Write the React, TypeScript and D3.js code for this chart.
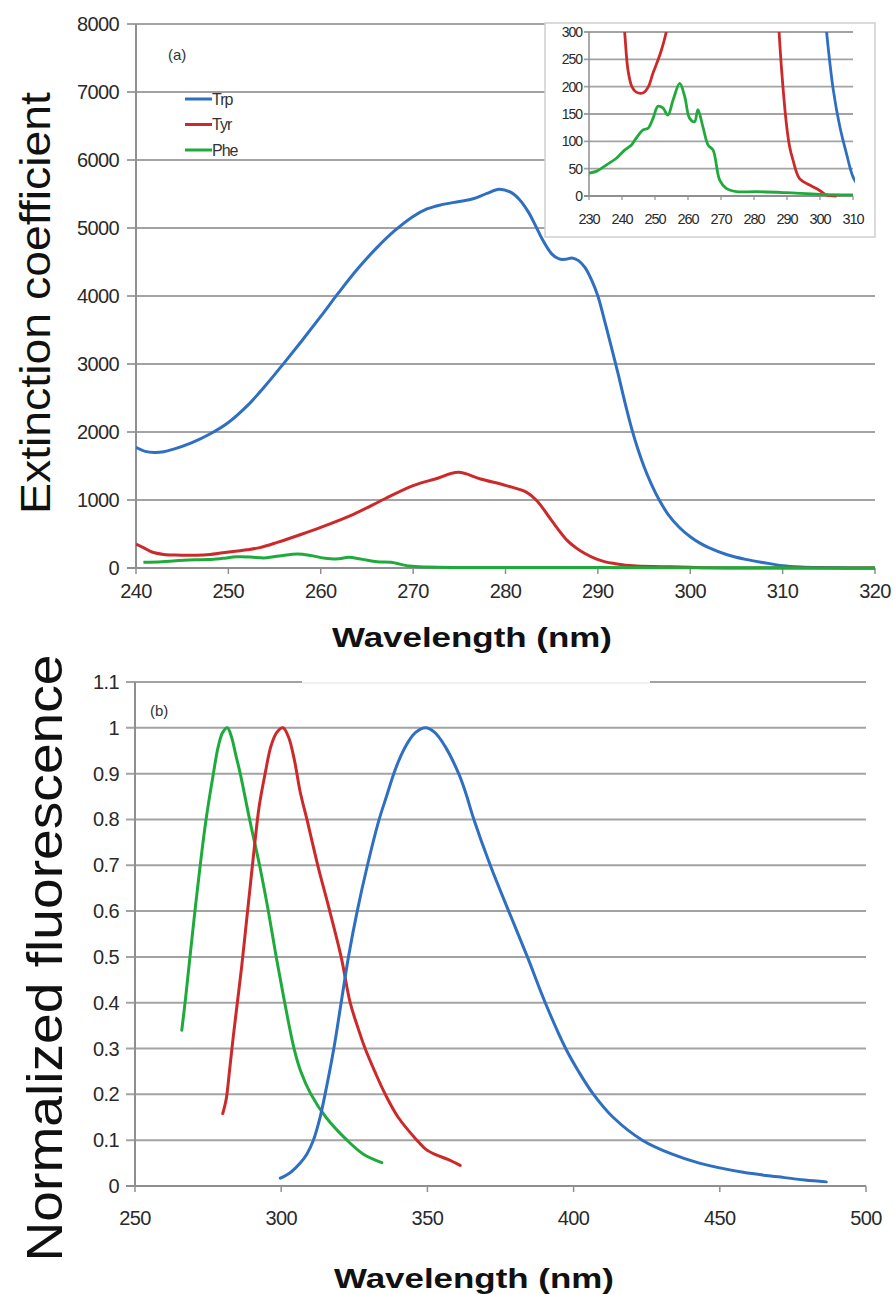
import React from 'react';
import * as d3 from 'd3';

// ---------- Data: panel (a) absorption ----------
const trpWl = [240,241,242,243,244,246,248,250,252,254,256,258,260,262,264,266,268,270,271.5,273,275,276.5,278,279.3,280.5,281.5,282.5,283.3,284,285,285.8,286.5,287.2,287.9,288.6,289.3,290,290.7,291.4,292.2,292.9,293.6,294.3,295,295.8,296.6,297.6,298.8,300,301,302,304,306,308,310,312,314,316,318,320];
const trpEps = [1775,1715,1700,1710,1745,1840,1970,2140,2380,2680,3010,3350,3700,4060,4400,4700,4960,5170,5280,5340,5390,5430,5510,5570,5530,5420,5230,5020,4830,4620,4545,4540,4560,4520,4420,4240,4000,3650,3280,2850,2450,2080,1760,1490,1230,1010,790,600,460,370,300,195,127,78,35,15,6,2,0,0];

const tyrWl = [240,240.8,241.8,243,244.3,246.5,248,249.4,251,252,253.4,255.3,258,260,263.6,266.9,270,272.4,274.9,277.3,280.1,282.3,283.4,285,286.7,287.6,288.5,289.8,290.8,291.8,293.8,296.9,299.9,301.9,305,320];
const tyrEps = [353,300,231,200,190,189,200,225,250,268,300,377,500,598,794,1015,1211,1309,1407,1309,1211,1113,990,696,402,300,220,133,90,66,32,20,10,2,0,0];

const pheWl = [230,232.2,235.3,238.3,240.8,242.8,244.3,246.4,247.9,249.4,250.9,252.4,253.9,255.5,257.5,259,260.5,262,263,264.5,266.1,267.6,269.6,271.6,274.6,280.7,289.8,299.9,310,320];
const pheEps = [42,45,57,69,84,93,106,121,124,142,164,161,148,176,206,182,142,136,158,127,93,84,29,14,8,8,6,3,2,1];

// ---------- Data: panel (b) fluorescence ----------
const trpFlWl = [299.7,303.3,306.5,308.8,311,313.3,315,318,320.5,323,326,329.5,333.5,336,338.5,341,343.5,346,349.3,352.5,356,360.7,363,365.9,371.5,377.8,384.2,390.3,397.3,401.7,406.8,413.5,423.5,433.5,443,458,470,479,486.4];
const trpFl = [0.017,0.03,0.05,0.07,0.1,0.15,0.2,0.3,0.4,0.5,0.6,0.7,0.8,0.85,0.9,0.94,0.97,0.99,1.0,0.99,0.96,0.9,0.86,0.8,0.7,0.6,0.5,0.4,0.3,0.25,0.2,0.15,0.1,0.07,0.05,0.03,0.02,0.013,0.009];

const tyrFlWl = [280,281.2,282.3,283.5,285,286.5,288,289.5,291,292.5,294.5,296.5,298.5,300.6,302.5,304.5,306.5,308.8,312.5,316.6,320.5,323.6,326,328.7,332,335.6,340,346.4,349.5,353,357,361.2];
const tyrFl = [0.158,0.19,0.25,0.32,0.4,0.48,0.57,0.66,0.75,0.83,0.9,0.96,0.99,1.0,0.98,0.93,0.86,0.8,0.7,0.6,0.5,0.4,0.35,0.3,0.25,0.2,0.15,0.1,0.08,0.068,0.058,0.045];

const pheFlWl = [266,267.3,268.8,270.5,272.3,274.3,276.8,278.5,280,281.6,283,284.5,286,289.2,292.6,295.6,298.3,301.2,304.4,306.7,310.2,315.3,322.5,328,334.4];
const pheFl = [0.34,0.41,0.5,0.6,0.7,0.8,0.9,0.96,0.99,1.0,0.98,0.94,0.9,0.8,0.7,0.6,0.5,0.4,0.3,0.25,0.2,0.15,0.1,0.07,0.051];

// ---------- Ticks / labels ----------
const absYTicks = [0,1000,2000,3000,4000,5000,6000,7000,8000];
const absXTicks = [240,250,260,270,280,290,300,310,320];
const insetYTicks = [0,50,100,150,200,250,300];
const insetXTicks = [230,240,250,260,270,280,290,300,310];
const flYTicks = [0,0.1,0.2,0.3,0.4,0.5,0.6,0.7,0.8,0.9,1,1.1];
const flXTicks = [250,300,350,400,450,500];
const legendNames = ['Trp','Tyr','Phe'];

const BLUE = '#2f6fc2';
const RED = '#cc2a2a';
const GREEN = '#1fab3c';
const GRID = '#a3a3a3';
const AXIS = '#8f8f8f';
const TICKFONT = "'Liberation Sans', Arial, sans-serif";

function pts(xs: number[], ys: number[]) {
  return xs.map((x, i) => [x, ys[i]] as [number, number]);
}

export default function App() {
  const W = 895, H = 1294;
  const xA = d3.scaleLinear().domain([240, 320]).range([136, 875]);
  const yA = d3.scaleLinear().domain([0, 8000]).range([568, 24]);
  const xI = d3.scaleLinear().domain([230, 310]).range([589, 853]);
  const yI = d3.scaleLinear().domain([0, 300]).range([196, 32]);
  const xB = d3.scaleLinear().domain([250, 500]).range([135, 866]);
  const yB = d3.scaleLinear().domain([0, 1.1]).range([1186, 682]);

  const curve = d3.curveCatmullRom.alpha(0.5);
  const lineA = d3.line<[number, number]>().x(d => xA(d[0])).y(d => yA(d[1])).curve(curve);
  const lineI = d3.line<[number, number]>().x(d => xI(d[0])).y(d => yI(d[1])).curve(curve);
  const lineB = d3.line<[number, number]>().x(d => xB(d[0])).y(d => yB(d[1])).curve(curve);

  const absSeries = [
    { name: 'Trp', color: BLUE, data: pts(trpWl, trpEps) },
    { name: 'Tyr', color: RED, data: pts(tyrWl, tyrEps) },
    { name: 'Phe', color: GREEN, data: pts(pheWl, pheEps) },
  ];
  const flSeries = [
    { color: GREEN, data: pts(pheFlWl, pheFl) },
    { color: RED, data: pts(tyrFlWl, tyrFl) },
    { color: BLUE, data: pts(trpFlWl, trpFl) },
  ];

  return (
    <svg width={W} height={H} style={{ position: 'absolute', left: 0, top: 0, background: '#fff' }}>
      <defs>
        <clipPath id="clipA"><rect x={xA(240)} y={yA(8000)} width={xA(320) - xA(240) + 2} height={yA(0) - yA(8000) + 2} /></clipPath>
        <clipPath id="clipI"><rect x={xI(230)} y={yI(300)} width={xI(310) - xI(230) + 2} height={yI(0) - yI(300) + 2} /></clipPath>
      </defs>
      <rect x={0} y={0} width={W} height={H} fill="#fff" />

      {/* ===== Panel (a) ===== */}
      {absYTicks.map(t => (
        <g key={'ag' + t}>
          <line x1={xA(240) - 9} x2={xA(320)} y1={yA(t)} y2={yA(t)} stroke={t === 0 ? AXIS : GRID} strokeWidth={2} />
          <text x={119} y={yA(t) + 7} textAnchor="end" fontFamily={TICKFONT} fontSize={20} letterSpacing={-0.6} fill="#2a2a2a">{t}</text>
        </g>
      ))}
      <line x1={xA(240)} x2={xA(240)} y1={yA(8000)} y2={yA(0)} stroke={AXIS} strokeWidth={2} />
      {absXTicks.map(t => (
        <g key={'ax' + t}>
          <line x1={xA(t)} x2={xA(t)} y1={yA(0)} y2={yA(0) + 6} stroke={AXIS} strokeWidth={1.5} />
          <text x={xA(t)} y={598} textAnchor="middle" fontFamily={TICKFONT} fontSize={20} letterSpacing={-0.6} fill="#2a2a2a">{t}</text>
        </g>
      ))}
      <g clipPath="url(#clipA)">
        {absSeries.map(s => (
          <path key={'a' + s.name} d={lineA(s.data.filter(d => d[0] >= 240)) || ''} fill="none" stroke={s.color} strokeWidth={3} strokeLinejoin="round" />
        ))}
      </g>
      <text x={168} y={60} fontFamily={TICKFONT} fontSize={15} fill="#333">(a)</text>
      {legendNames.map((n, i) => (
        <g key={'lg' + n}>
          <line x1={185} x2={212} y1={99 + i * 25.5} y2={99 + i * 25.5} stroke={absSeries[i].color} strokeWidth={3} />
          <text x={212} y={104.5 + i * 25.5} fontFamily={TICKFONT} fontSize={16} letterSpacing={-1} fill="#333">{n}</text>
        </g>
      ))}

      {/* inset */}
      <rect x={545} y={23} width={330} height={214} fill="#fff" stroke="#cfcfcf" strokeWidth={1.5} />
      {insetYTicks.map(t => (
        <g key={'ig' + t}>
          <line x1={xI(230) - 5} x2={xI(310)} y1={yI(t)} y2={yI(t)} stroke={t === 0 ? AXIS : GRID} strokeWidth={1.8} />
          <text x={582} y={yI(t) + 5} textAnchor="end" fontFamily={TICKFONT} fontSize={14} letterSpacing={-1} fill="#2a2a2a">{t}</text>
        </g>
      ))}
      <line x1={xI(230)} x2={xI(230)} y1={yI(300)} y2={yI(0)} stroke={AXIS} strokeWidth={1.5} />
      {insetXTicks.map(t => (
        <g key={'ix' + t}>
          <line x1={xI(t)} x2={xI(t)} y1={yI(0)} y2={yI(0) + 4} stroke={AXIS} strokeWidth={1.2} />
          <text x={xI(t)} y={224} textAnchor="middle" fontFamily={TICKFONT} fontSize={14.5} letterSpacing={-1} fill="#2a2a2a">{t}</text>
        </g>
      ))}
      <g clipPath="url(#clipI)">
        {absSeries.map(s => (
          <path key={'i' + s.name} d={lineI(s.data.filter(d => d[0] <= 312)) || ''} fill="none" stroke={s.color} strokeWidth={2.8} strokeLinejoin="round" />
        ))}
      </g>

      {/* axis titles panel a */}
      <text x={472} y={647} textAnchor="middle" fontFamily={TICKFONT} fontWeight="bold" fontSize={28} textLength={280} lengthAdjust="spacingAndGlyphs" fill="#111">Wavelength (nm)</text>
      <text transform="translate(50,303) rotate(-90)" textAnchor="middle" fontFamily={TICKFONT} fontSize={42} textLength={422} lengthAdjust="spacingAndGlyphs" fill="#111">Extinction coefficient</text>

      {/* ===== Panel (b) ===== */}
      {flYTicks.map(t => (
        <g key={'bg' + t}>
          <line x1={xB(250) - 9} x2={xB(500)} y1={yB(t)} y2={yB(t)} stroke={t === 0 ? AXIS : GRID} strokeWidth={2} />
          <text x={119} y={yB(t) + 7} textAnchor="end" fontFamily={TICKFONT} fontSize={20} letterSpacing={-0.6} fill="#2a2a2a">{String(t)}</text>
        </g>
      ))}
      <rect x={302} y={yB(1.1) - 2} width={348} height={4} fill="#fff" />
      <line x1={302} x2={650} y1={yB(1.1) + 1} y2={yB(1.1) + 1} stroke="#e2e2e2" strokeWidth={1} />
      <line x1={xB(250)} x2={xB(250)} y1={yB(1.1)} y2={yB(0)} stroke={AXIS} strokeWidth={2} />
      {flXTicks.map(t => (
        <g key={'bx' + t}>
          <line x1={xB(t)} x2={xB(t)} y1={yB(0)} y2={yB(0) + 6} stroke={AXIS} strokeWidth={1.5} />
          <text x={xB(t)} y={1225} textAnchor="middle" fontFamily={TICKFONT} fontSize={20} letterSpacing={-0.6} fill="#2a2a2a">{t}</text>
        </g>
      ))}
      {flSeries.map((s, i) => (
        <path key={'b' + i} d={lineB(s.data) || ''} fill="none" stroke={s.color} strokeWidth={3} strokeLinejoin="round" strokeLinecap="round" />
      ))}
      <text x={150} y={716} fontFamily={TICKFONT} fontSize={15} fill="#333">(b)</text>

      <text x={474} y={1288} textAnchor="middle" fontFamily={TICKFONT} fontWeight="bold" fontSize={28} textLength={280} lengthAdjust="spacingAndGlyphs" fill="#111">Wavelength (nm)</text>
      <text transform="translate(62,958) rotate(-90)" textAnchor="middle" fontFamily={TICKFONT} fontSize={50} textLength={607} lengthAdjust="spacingAndGlyphs" fill="#111">Normalized fluorescence</text>
    </svg>
  );
}
